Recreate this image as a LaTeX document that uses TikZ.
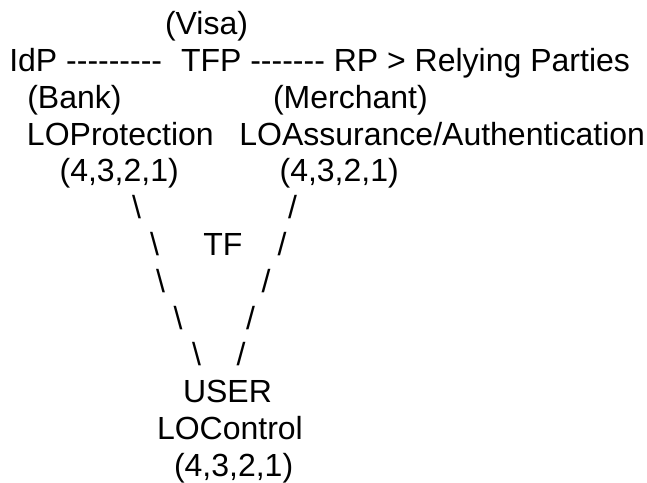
\documentclass[tikz,border=0pt]{standalone}
\usepackage{fontspec}
\newfontfamily\af{Liberation Sans}[Ligatures=TeXOff]
\begin{document}
\begin{tikzpicture}[x=1pt,y=-1pt,
  txt/.style={inner sep=0pt,outer sep=0pt,anchor=base west,font=\af\fontsize{32}{38}\selectfont}]
\useasboundingbox (0,0) rectangle (647,482);
% line 1
\node[txt] (visa) at (165,34.5) {(Visa)};
% line 2
\node[txt] (idp) at (9.3,71.5) {IdP ---------};
\node[txt] (tfp) at (181,71.5) {TFP ------- RP > Relying Parties};
% line 3
\node[txt] (bank) at (27.3,108.3) {(Bank)};
\node[txt] (merchant) at (273,108.3) {(Merchant)};
% line 4
\node[txt] (lopro) at (27,145.1) {LOProtection};
\node[txt] (loass) at (239.4,145.1) {LOAssurance/Authentication};
% line 5
\node[txt] (nl) at (59.6,181.9) {(4,3,2,1)};
\node[txt] (nr) at (279.6,181.9) {(4,3,2,1)};
% lines 6-10
\node[txt] (b6) at (132,218.7) {\textbackslash};
\node[txt] (s6) at (288,218.7) {/};
\node[txt] (b7) at (150,255.5) {\textbackslash};
\node[txt] (tf) at (203.3,255.5) {TF};
\node[txt] (s7) at (277.7,255.5) {/};
\node[txt] (b8) at (156,292.3) {\textbackslash};
\node[txt] (s8) at (261.7,292.3) {/};
\node[txt] (b9) at (173.5,329.1) {\textbackslash};
\node[txt] (s9) at (246,329.1) {/};
\node[txt] (b10) at (192,365.9) {\textbackslash};
\node[txt] (s10) at (236.7,365.9) {/};
% lines 11-13
\node[txt] (user) at (183,402.7) {USER};
\node[txt] (locontrol) at (157,439.5) {LOControl};
\node[txt] (nu) at (174,476.3) {(4,3,2,1)};
\end{tikzpicture}
\end{document}
